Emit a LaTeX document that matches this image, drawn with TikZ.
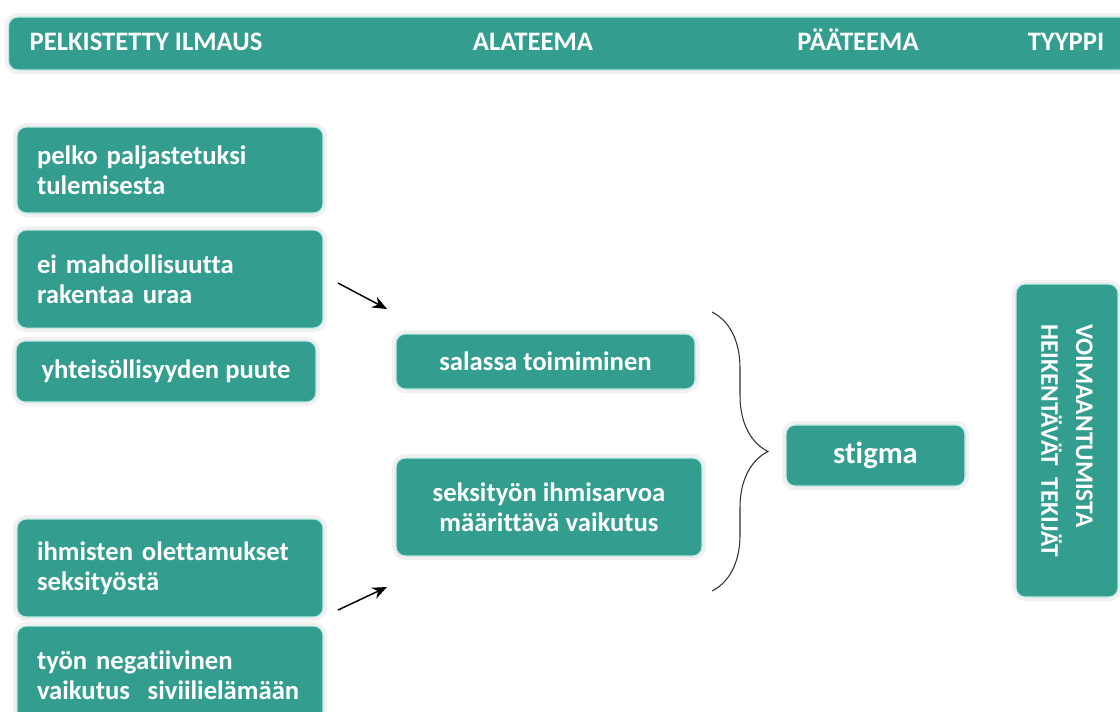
\documentclass[tikz,border=0pt]{standalone}
\usepackage{fontspec}
\setmainfont[Ligatures=NoCommon]{Carlito}
\usepackage{tikz}
\usetikzlibrary{positioning, arrows.meta, decorations.pathreplacing}

\definecolor{tealbox}{RGB}{51,158,143}
\definecolor{boxedge}{RGB}{190,236,230}
\definecolor{halo}{RGB}{242,240,241}

\begin{document}
\begin{tikzpicture}[x=0.75pt, y=-0.75pt, >={Stealth[length=11pt, width=9pt]}, node distance=12pt]
    \tikzstyle{box}=[rectangle, rounded corners=7pt, fill=tealbox, draw=boxedge, line width=0.8pt,
        preaction={draw=halo, line width=6pt}, text=white, inner xsep=15pt,
        font=\bfseries\fontsize{20}{22.5}\selectfont]
    \tikzstyle{otsikko}=[text=white, text height=14pt, text depth=3pt, font=\bfseries\fontsize{20}{22}\selectfont]

    \useasboundingbox (0,0) rectangle (1120,711);
    \clip (0,0) rectangle (1120,711);

    % otsikkorivi
    \node[box, minimum width=840pt, minimum height=39.75pt, anchor=west] (kehys) at (8,43.5) {};
    \node[otsikko] (ilmaus) at (146,43) {PELKISTETTY ILMAUS};
    \node[otsikko] (alateema) at (533,43) {ALATEEMA};
    \node[otsikko] (paateema) at (858,43) {PÄÄTEEMA};
    \node[otsikko] (tyyppi) at (1066,43) {TYYPPI};

    % pelkistetyt ilmaukset
    \node[box, text width=199.5pt, minimum height=64.5pt, align=left] (pelko) at (170,170) {pelko paljastetuksi\\tulemisesta};
    \node[box, text width=199.5pt, minimum height=73.5pt, align=left, below=of pelko] (ura) {ei mahdollisuutta\\rakentaa uraa};
    \node[box, minimum width=225pt, minimum height=45.75pt] (yhteiso) at (166,371.5) {yhteisöllisyyden puute};
    \node[box, text width=199.5pt, minimum height=73.5pt, align=left] (oletus) at (170,568) {ihmisten olettamukset\\seksityöstä};
    \node[box, text width=199.5pt, minimum height=73.5pt, align=left, below=6pt of oletus] (siviili) {työn negatiivinen\\vaikutus~ siviilielämään};

    % alateemat
    \node[box, minimum width=224.25pt, minimum height=41.25pt] (salassa) at (545.5,361.5) {salassa toimiminen};
    \node[box, minimum width=229.5pt, minimum height=73.5pt, align=center] (arvo) at (549,507) {seksityön ihmisarvoa\\määrittävä vaikutus};

    % pääteema ja tyyppi
    \node[box, minimum width=134.25pt, minimum height=45.75pt, font=\bfseries\fontsize{23}{26}\selectfont] (stigma) at (875.5,455.5) {stigma};
    \node[box, rotate=-90, minimum width=234.75pt, minimum height=76.5pt, align=left,
        font=\bfseries\fontsize{19}{26}\selectfont] (tekijat) at (1067,440.5) {VOIMAANTUMISTA\\HEIKENTÄVÄT~ TEKIJÄT};

    % nuolet
    \coordinate (n1a) at (338,283);
    \coordinate (n1b) at (387,309);
    \coordinate (n2a) at (338,610);
    \coordinate (n2b) at (387,587);
    \draw[->, line width=1.1pt] (n1a) -- (n1b);
    \draw[->, line width=1.1pt] (n2a) -- (n2b);

    % aaltosulje
    \coordinate (sulkuyla) at (712,312);
    \coordinate (sulkuala) at (712,591);
    \draw[black!80, line width=0.8pt, decorate, decoration={brace, amplitude=42pt}] (sulkuyla) -- (sulkuala);
\end{tikzpicture}
\end{document}
